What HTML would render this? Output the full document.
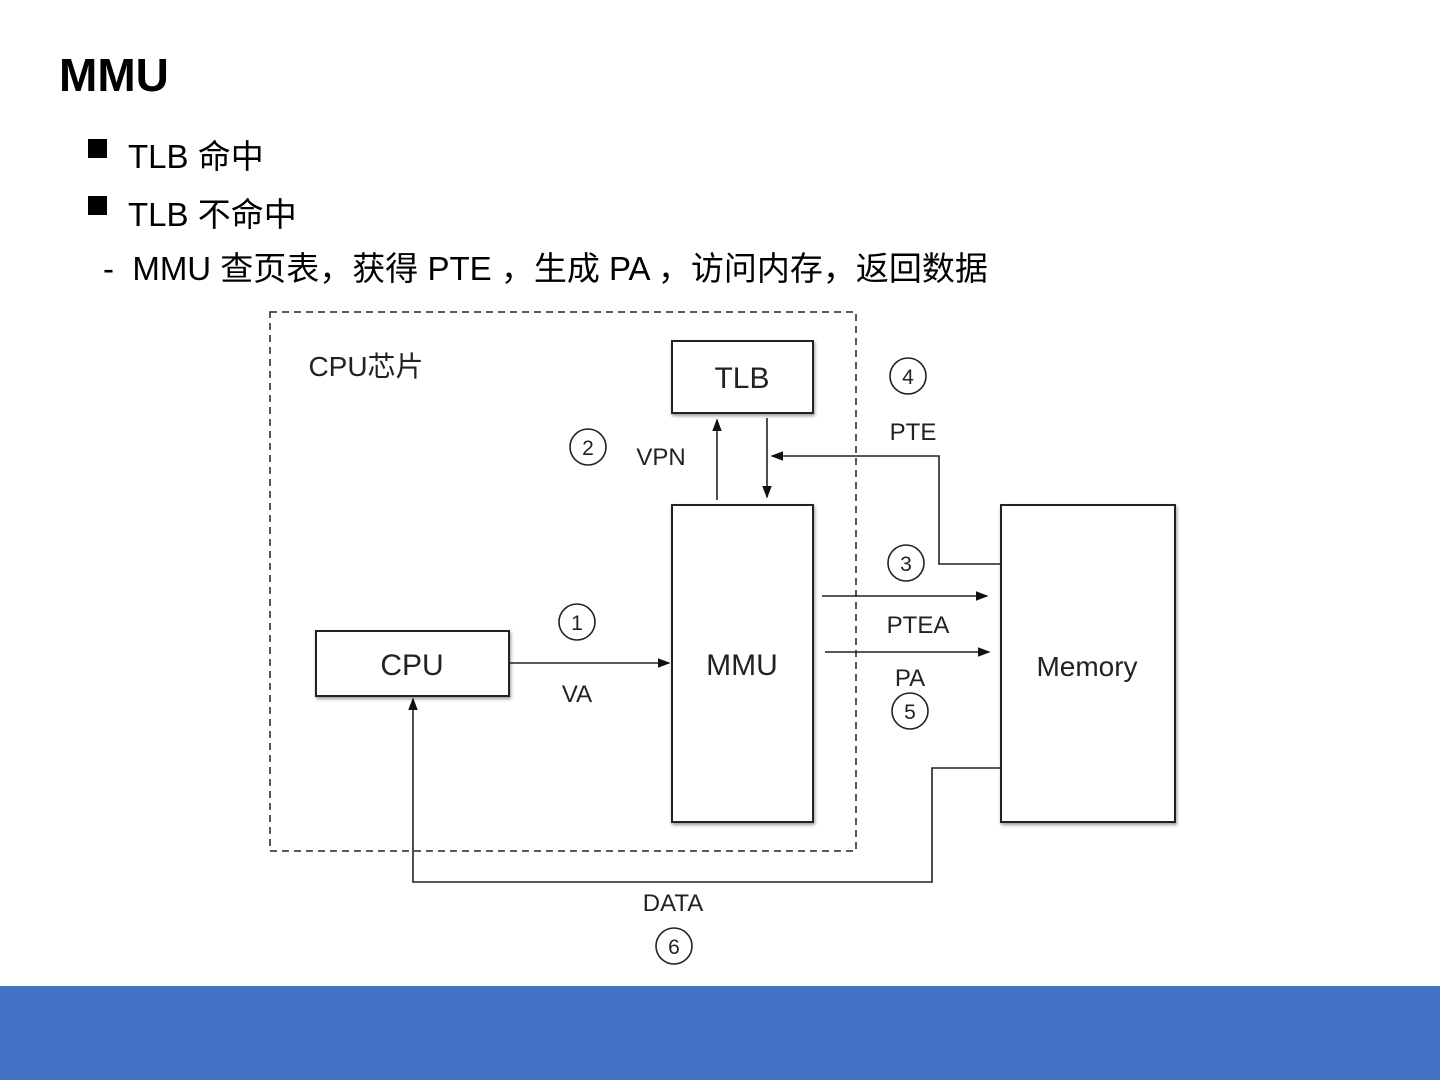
<!DOCTYPE html>
<html><head><meta charset="utf-8"><style>
body{margin:0;width:1440px;height:1080px;background:#fff;position:relative;overflow:hidden;font-family:"Liberation Sans","Noto Sans CJK SC",sans-serif;}
.t{position:absolute;white-space:nowrap;color:#000;}
.sq{position:absolute;width:19px;height:19px;background:#000;}
.foot{position:absolute;left:0;top:986px;width:1440px;height:94px;background:#4472C4;}
</style></head><body>
<div class="t" style="left:59px;top:48px;font-size:46px;font-weight:bold;">MMU</div>
<div class="sq" style="left:88px;top:139px"></div>
<div class="t" style="left:128px;top:130px;font-size:33px;">TLB 命中</div>
<div class="sq" style="left:88px;top:196px"></div>
<div class="t" style="left:128px;top:188px;font-size:33px;">TLB 不命中</div>
<div class="t" style="left:103px;top:242px;font-size:33px;">-&nbsp; MMU 查页表，获得 PTE ，生成 PA ，访问内存，返回数据</div>
<svg width="1440" height="1080" style="position:absolute;left:0;top:0" xmlns="http://www.w3.org/2000/svg">
<defs><marker id="a" markerWidth="8" markerHeight="6" refX="7" refY="3" orient="auto"><path d="M0,0 L8,3 L0,6z" fill="#111"/></marker>
<filter id="s"><feDropShadow dx="1" dy="2" stdDeviation="1.5" flood-opacity="0.4"/></filter></defs>
<g fill="none" stroke="#222" stroke-width="2">
<rect x="270" y="312" width="586" height="539" stroke-dasharray="7,5" stroke-width="1.5"/>
<g fill="#fff" filter="url(#s)">
<rect x="672" y="341" width="141" height="72"/>
<rect x="672" y="505" width="141" height="317"/>
<rect x="316" y="631" width="193" height="65"/>
<rect x="1001" y="505" width="174" height="317"/>
</g>
<g stroke-width="1.6">
<line x1="717" y1="500" x2="717" y2="420" marker-end="url(#a)"/>
<line x1="767" y1="418" x2="767" y2="497" marker-end="url(#a)"/>
<polyline points="1001,564 939,564 939,456 772,456" marker-end="url(#a)"/>
<line x1="822" y1="596" x2="987" y2="596" marker-end="url(#a)"/>
<line x1="825" y1="652" x2="989" y2="652" marker-end="url(#a)"/>
<line x1="509" y1="663" x2="669" y2="663" marker-end="url(#a)"/>
<polyline points="1001,768 932,768 932,882 413,882 413,699" marker-end="url(#a)"/>
<circle cx="577" cy="622" r="18"/><circle cx="588" cy="447" r="18"/>
<circle cx="908" cy="376" r="18"/><circle cx="906" cy="563" r="18"/>
<circle cx="910" cy="711" r="18"/><circle cx="674" cy="946" r="18"/>
</g></g>
<g font-family="Liberation Sans, Noto Sans CJK SC, sans-serif" fill="#222" text-anchor="middle">
<text x="742" y="388" font-size="30">TLB</text>
<text x="742" y="675" font-size="30">MMU</text>
<text x="412" y="675" font-size="30">CPU</text>
<text x="1087" y="676" font-size="28">Memory</text>
<text x="366" y="376" font-size="28">CPU芯片</text>
<g font-size="24"><text x="661" y="465">VPN</text><text x="913" y="440">PTE</text>
<text x="918" y="633">PTEA</text><text x="910" y="686">PA</text><text x="577" y="702">VA</text><text x="673" y="911">DATA</text></g>
<g font-size="21"><text x="577" y="630">1</text><text x="588" y="455">2</text><text x="908" y="384">4</text>
<text x="906" y="571">3</text><text x="910" y="719">5</text><text x="674" y="954">6</text></g>
</g>
</svg>
<div class="foot"></div>
</body></html>
